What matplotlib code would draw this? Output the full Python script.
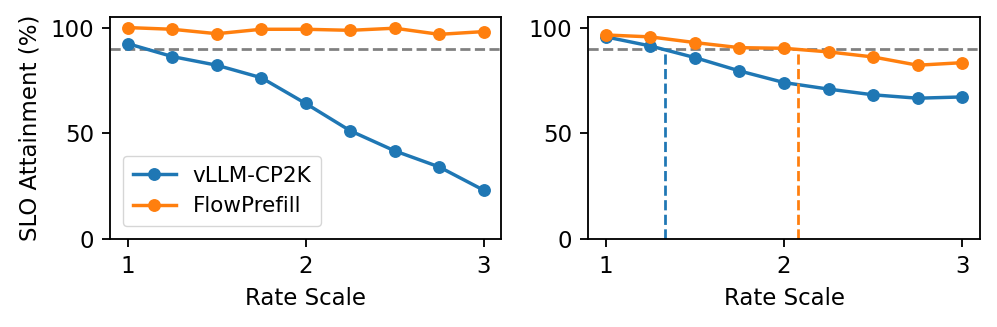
import numpy as np
import matplotlib
matplotlib.use("Agg")
import matplotlib.pyplot as plt

# Donnees
rate_scale = [1.0, 1.25, 1.5, 1.75, 2.0, 2.25, 2.5, 2.75, 3.0]

left_vllm = [92.4, 86.3, 82.2, 76.3, 64.1, 51.2, 41.7, 34.1, 23.1]
left_flow = [100.0, 99.2, 97.1, 99.2, 99.2, 98.7, 99.7, 96.8, 98.1]

right_vllm = [95.6, 91.3, 85.8, 79.5, 74.0, 70.9, 68.2, 66.6, 67.2]
right_flow = [96.5, 95.6, 92.9, 90.5, 90.2, 88.5, 86.1, 82.2, 83.4]

slo_target = 90
right_cross = [1.33, 2.08]  # rate scale ou chaque serie passe sous 90 %

s = 1.65  # facteur d'echelle
plt.rcParams['font.size'] = 10 * s

fig = plt.figure(figsize=(9.97, 3.27), dpi=100)
ax1 = fig.add_axes([0.1103, 0.269, 0.3927, 0.679])
ax2 = fig.add_axes([0.5898, 0.269, 0.3932, 0.679])

c_blue = '#1f77b4'
c_orange = '#ff7f0e'
lw = 1.5 * s
ms = 5 * s

for ax, v, f in [(ax1, left_vllm, left_flow), (ax2, right_vllm, right_flow)]:
    ax.plot(rate_scale, v, '-o', color=c_blue, lw=lw, ms=ms, label='vLLM-CP2K')
    ax.plot(rate_scale, f, '-o', color=c_orange, lw=lw, ms=ms, label='FlowPrefill')
    ax.axhline(slo_target, color='gray', ls='--', lw=1.2 * s, zorder=1)
    ax.set_xlim(0.9, 3.1)
    ax.set_ylim(0, 105)
    ax.set_xticks([1, 2, 3])
    ax.set_yticks([0, 50, 100])
    ax.set_xlabel('Rate Scale', labelpad=4 * s)
    ax.tick_params(width=0.8 * s, length=3.5 * s, pad=3.5 * s)
    for sp in ax.spines.values():
        sp.set_linewidth(0.8 * s)

ax2.plot([right_cross[0]] * 2, [0, slo_target], '--', color=c_blue, lw=1.2 * s)
ax2.plot([right_cross[1]] * 2, [0, slo_target], '--', color=c_orange, lw=1.2 * s)

ax1.set_ylabel('SLO Attainment (%)', labelpad=4 * s)
ax1.legend(loc='lower left', fontsize=15.5, borderpad=0.45, handlelength=2.0,
           handletextpad=0.8, borderaxespad=0.6)

fig.savefig('out.png', dpi=100)
